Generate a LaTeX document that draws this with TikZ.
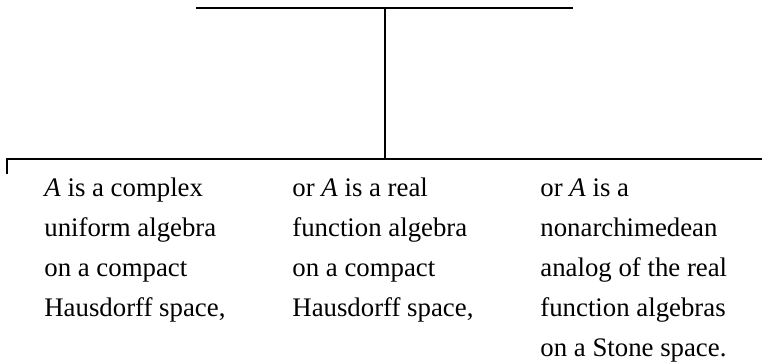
\documentclass[tikz,border=0pt]{standalone}
\usepackage{fontspec}
\setmainfont{Liberation Serif}
\usepackage{tikz}

\begin{document}
\begin{tikzpicture}[x=0.5pt,y=-0.5pt,
  branch/.style={line width=1pt},
  case/.style={anchor=base west,align=left,inner sep=0pt,
    font=\fontsize{13.4}{20}\selectfont}]
\useasboundingbox (0,0) rectangle (762,362);
% the bracket
\coordinate (topL) at (196,8.5);
\coordinate (topR) at (573,8.5);
\coordinate (topM) at (385,8.5);
\coordinate (fork) at (385,159);
\coordinate (forkL) at (7,159);
\coordinate (forkR) at (762,159);
\coordinate (tick) at (7,174);
\draw[branch] (topL) -- (topR);
\draw[branch] (topM) -- (fork);
\draw[branch] (tick) -- (forkL) -- (forkR);
% the three cases (base = last line)
\node[case] (cmplx) at (44,316.7) {\textit{A} is a complex\\uniform algebra\\on a compact\\Hausdorff space,};
\node[case] (real) at (292,316.7) {or \textit{A} is a real\\function algebra\\on a compact\\Hausdorff space,};
\node[case] (nonarch) at (540,356.7) {or \textit{A} is a\\nonarchimedean\\analog of the real\\function algebras\\on a Stone space.};
\end{tikzpicture}
\end{document}
